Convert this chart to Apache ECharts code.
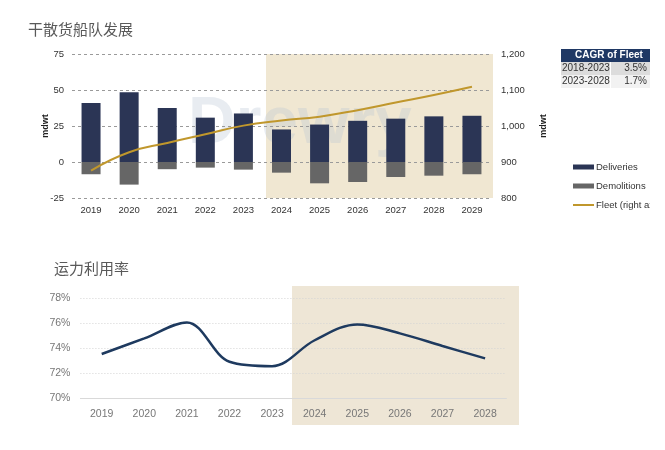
<!DOCTYPE html>
<html><head><meta charset="utf-8">
<script src="https://cdn.jsdelivr.net/npm/echarts@6/dist/echarts.min.js"></script>
<style>html,body{margin:0;padding:0;background:#fff}#c{width:665px;height:450px}</style>
</head><body><div id="c"></div>
<script>
const years = ['2019','2020','2021','2022','2023','2024','2025','2026','2027','2028','2029'];
const deliveries = [41, 48.5, 37.5, 30.8, 33.7, 22.6, 26, 28.6, 30.1, 31.7, 32.1];
const demolitions = [-8.5, -15.7, -5, -3.9, -5.3, -7.4, -14.8, -13.9, -10.4, -9.5, -8.5];
const fleet = [876, 927, 953, 977, 1001, 1015, 1026, 1044, 1065, 1086, 1109];
const leftTicks = [-25, 75, 25];
const rightTicks = [800, 1200, 100];

const utilYears = ['2019','2020','2021','2022','2023','2024','2025','2026','2027','2028'];
const utilization = [73.52, 74.77, 76.05, 72.9, 72.55, 74.62, 75.89, 75.17, 74.16, 73.17];
const utilTicks = [70, 78, 2];

const cagrHeader = 'CAGR of Fleet';
const cagrPeriods = ['2018-2023', '2023-2028'];
const cagrValues = ['3.5%', '1.7%'];

const FONT = 'Liberation Sans, Arial, sans-serif';
const CJK = 'Noto Sans CJK SC, sans-serif';
const chart = echarts.init(document.getElementById('c'), null, {renderer: 'canvas'});

const graphics = [
  {type:'rect', z:-10, shape:{x:266, y:54, width:227, height:144}, style:{fill:'#F0E7D2'}},
  {type:'rect', z:-10, shape:{x:292, y:286, width:227, height:139}, style:{fill:'#EEE6D6'}},
  {type:'text', z:-5, left:188, top:92, style:{text:'Drewry', font:'bold 66px ' + FONT, fill:'rgba(185,195,212,0.32)'}},
  {type:'rect', shape:{x:561, y:49, width:89, height:13}, style:{fill:'#1F3864'}},
  {type:'text', style:{x:609, y:55.5, text:cagrHeader, font:'bold 10px ' + FONT, fill:'#fff', align:'center', verticalAlign:'middle'}}
];
cagrPeriods.forEach((p, i) => {
  const y = 62 + i * 13;
  const bg = i === 0 ? '#DCDCDC' : '#F2F2F2';
  graphics.push({type:'rect', shape:{x:561, y:y, width:49, height:13}, style:{fill:bg}});
  graphics.push({type:'rect', shape:{x:611, y:y, width:39, height:13}, style:{fill:bg}});
  graphics.push({type:'text', style:{x:562, y:y+6.5, text:p, font:'10px ' + FONT, fill:'#333', verticalAlign:'middle'}});
  graphics.push({type:'text', style:{x:647, y:y+6.5, text:cagrValues[i], font:'10px ' + FONT, fill:'#333', align:'right', verticalAlign:'middle'}});
});
graphics.push({type:'rect', z:100, shape:{x:650, y:150, width:15, height:70}, style:{fill:'#fff'}});

const option = {
  backgroundColor: '#fff',
  animation: false,
  textStyle: {fontFamily: FONT},
  title: [
    {text:'干散货船队发展', left:23, top:17, textStyle:{fontFamily:CJK, fontSize:15, fontWeight:'normal', color:'#595959'}},
    {text:'运力利用率', left:49, top:256, textStyle:{fontFamily:CJK, fontSize:15, fontWeight:'normal', color:'#595959'}}
  ],
  legend: {
    orient:'vertical', left:567, top:157, itemGap:9, itemWidth:21, itemHeight:5,
    textStyle:{fontSize:9.5, color:'#333', padding:[0,0,0,-3]},
    data:[{name:'Deliveries', icon:'rect'}, {name:'Demolitions', icon:'rect'},
          {name:'Fleet (right axis)', itemStyle:{opacity:0}}]
  },
  graphic: graphics,
  grid: [
    {left:72, width:419, top:54, height:144},
    {left:80.4, width:426, top:298, height:100}
  ],
  xAxis: [
    {type:'category', gridIndex:0, data:years, axisLine:{show:false}, axisTick:{show:false},
     axisLabel:{fontSize:9.5, color:'#333', margin:7}},
    {type:'category', gridIndex:1, data:utilYears, axisLine:{show:true, lineStyle:{color:'#D9D9D9'}}, axisTick:{show:false},
     axisLabel:{fontSize:10.5, color:'#777', margin:11}}
  ],
  yAxis: [
    {type:'value', gridIndex:0, min:leftTicks[0], max:leftTicks[1], interval:leftTicks[2],
     name:'mdwt', nameLocation:'middle', nameGap:22, nameRotate:90, nameMoveOverlap:false,
     nameTextStyle:{fontSize:9, fontWeight:'bold', color:'#222'},
     axisLabel:{fontSize:9.5, color:'#333', margin:8},
     splitLine:{lineStyle:{type:[3,3], color:'#9a9a9a', width:1}}},
    {type:'value', gridIndex:0, min:rightTicks[0], max:rightTicks[1], interval:rightTicks[2], position:'right',
     name:'mdwt', nameLocation:'middle', nameGap:48, nameRotate:90, nameMoveOverlap:false,
     nameTextStyle:{fontSize:9, fontWeight:'bold', color:'#222'},
     axisLabel:{fontSize:9.5, color:'#333', margin:10, formatter: v => v.toLocaleString('en-US')},
     splitLine:{show:false}},
    {type:'value', gridIndex:1, min:utilTicks[0], max:utilTicks[1], interval:utilTicks[2],
     axisLabel:{fontSize:10.5, color:'#777', margin:10, formatter: v => v + '%'},
     splitLine:{lineStyle:{type:[1,2], color:'#D4D4D4'}}}
  ],
  series: [
    {name:'Deliveries', type:'bar', stack:'a', xAxisIndex:0, yAxisIndex:0, data:deliveries, barWidth:19,
     itemStyle:{color:'#2B3555'}},
    {name:'Demolitions', type:'bar', stack:'a', xAxisIndex:0, yAxisIndex:0, data:demolitions, barWidth:19,
     itemStyle:{color:'#666666'}},
    {name:'Fleet (right axis)', type:'line', xAxisIndex:0, yAxisIndex:1, data:fleet, smooth:true, symbol:'none',
     lineStyle:{color:'#C0972C', width:2}, itemStyle:{color:'#C0972C'}},
    {name:'Utilization', type:'line', xAxisIndex:1, yAxisIndex:2, data:utilization, smooth:0.35, symbol:'none',
     lineStyle:{color:'#1E3A5F', width:2.5}}
  ]
};
chart.setOption(option);
</script></body></html>
